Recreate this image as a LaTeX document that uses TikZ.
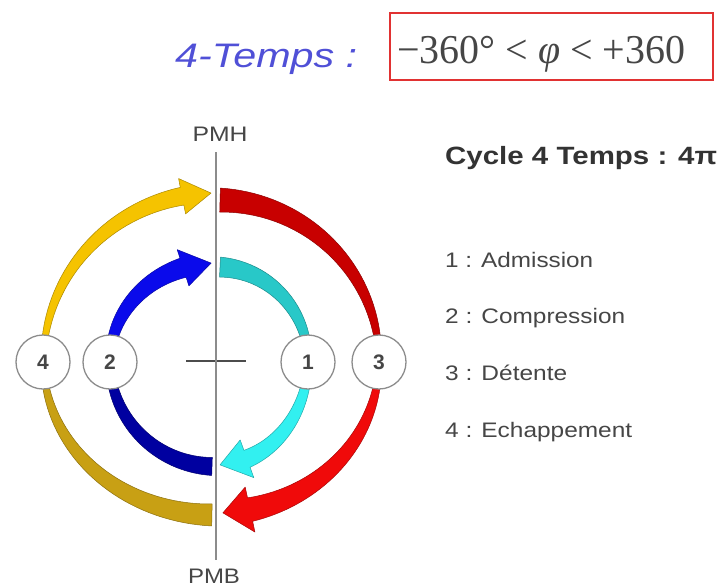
\documentclass[tikz,border=0pt]{standalone}
\usepackage{fontspec}
\usepackage{graphicx}
\setmainfont{Liberation Sans}
\newfontfamily\serifmath{Liberation Serif}
\definecolor{ytop}{RGB}{245,195,0}
\definecolor{ybot}{RGB}{200,160,20}
\definecolor{rtop}{RGB}{200,0,0}
\definecolor{rbot}{RGB}{240,10,10}
\definecolor{btop}{RGB}{10,10,235}
\definecolor{bbot}{RGB}{0,0,160}
\definecolor{ctop}{RGB}{40,200,200}
\definecolor{cbot}{RGB}{50,240,240}
\definecolor{titleblue}{RGB}{80,80,215}
\definecolor{boxred}{RGB}{225,50,50}
\definecolor{txtgray}{RGB}{70,70,70}
\definecolor{linegray}{RGB}{140,140,140}
% tapered elliptic arc with optional arrow head
% #1 colour, #2 rx, #3 ry, #4 tail angle, #5 head-base angle, #6 tail width,
% #7 width at head base, #8 tip angle, #9 head half width
\newcommand{\tarc}[9]{%
 \filldraw[fill=#1, draw=#1!70!black, line width=0.5pt, line join=round]
 plot[domain=0:1, samples=40, variable=\t]
   ({(#2+(#6+(#7-#6)*\t)/2)*cos(#4+(#5-#4)*\t)}, {(#3+(#6+(#7-#6)*\t)/2)*sin(#4+(#5-#4)*\t)})
 -- ({(#2+#9)*cos(#5)}, {(#3+#9)*sin(#5)})
 -- ({#2*cos(#8)}, {#3*sin(#8)})
 -- ({(#2-#9)*cos(#5)}, {(#3-#9)*sin(#5)})
 -- plot[domain=0:1, samples=40, variable=\t]
   ({(#2-(#6+(#7-#6)*(1-\t))/2)*cos(#4+(#5-#4)*(1-\t))}, {(#3-(#6+(#7-#6)*(1-\t))/2)*sin(#4+(#5-#4)*(1-\t))})
 -- cycle;}
\tikzset{
  numc/.style={circle, draw=linegray, line width=1.3pt, fill=white, minimum size=54pt, inner sep=0pt,
    text=txtgray, font=\fontsize{21}{24}\selectfont\bfseries},
  lbl/.style={inner sep=0pt, anchor=base west, text=txtgray},
  pm/.style={inner sep=0pt, text=txtgray, font=\fontsize{21}{24}\selectfont}
}
\begin{document}
\begin{tikzpicture}[x=1pt,y=1pt]
\useasboundingbox (0,0) rectangle (719,-587);
\fill[white] (0,0) rectangle (719,-587);
% title
\node[lbl, text=titleblue] (title) at (175,-67)
  {\resizebox{182pt}{\height}{\fontsize{34}{40}\selectfont\itshape 4-Temps :}};
\node[lbl, text=txtgray] (formula) at (397,-63)
  {\resizebox{288pt}{\height}{\serifmath\fontsize{41}{48}\selectfont −360° < \textit{φ} < +360}};
\draw[boxred, line width=2.5pt] (390,-13) rectangle (713,-80);
% legend
\node[lbl, text=black!80] (cyc) at (445,-164)
  {\resizebox{272pt}{\height}{\fontsize{25}{30}\selectfont\bfseries Cycle 4 Temps : 4π}};
\node[lbl] (l1) at (445,-267) {\resizebox{148pt}{\height}{\fontsize{21}{24}\selectfont 1 : Admission}};
\node[lbl] (l2) at (445,-323) {\resizebox{180pt}{\height}{\fontsize{21}{24}\selectfont 2 : Compression}};
\node[lbl] (l3) at (445,-380) {\resizebox{122pt}{\height}{\fontsize{21}{24}\selectfont 3 : Détente}};
\node[lbl] (l4) at (445,-437) {\resizebox{187pt}{\height}{\fontsize{21}{24}\selectfont 4 : Echappement}};
% axis
\coordinate (top) at (215.5,-152);
\coordinate (bot) at (215.5,-560);
\node[pm, anchor=base] (pmh) at (220,-141) {\resizebox{55pt}{\height}{PMH}};
\node[pm, anchor=base] (pmb) at (214,-583) {\resizebox{52pt}{\height}{PMB}};
\begin{scope}[shift={(215.5,-361)}]
  % outer cycle
  \tarc{ytop}{172}{168}{178}{101.2}{5}{18}{91.5}{18}
  \tarc{ybot}{172}{154}{182}{268.8}{5}{22}{268.8}{11}
  \tarc{rtop}{163.5}{161}{2}{88.4}{5}{24}{88.4}{12}
  \tarc{rbot}{163.5}{152}{-2}{-77.8}{5}{24}{-87.4}{23}
  % inner cycle
  \tarc{btop}{105.5}{98}{178}{107.9}{8}{20}{92.4}{19}
  \tarc{bbot}{105.5}{105.5}{182}{268.1}{8}{18}{268.1}{9}
  \tarc{ctop}{92.5}{94}{2}{87.2}{7}{20}{87.2}{10}
  \tarc{cbot}{92.5}{104}{-2}{-70.1}{7}{18}{-87.2}{20}
  % centre cross
  \draw[black!70, line width=1.5pt] (-29.5,0) -- (30.5,0);
  % stroke numbers
  \node[numc] (c4) at (-172.5,-1) {4};
  \node[numc] (c2) at (-105.5,-1) {2};
  \node[numc] (c1) at (92.5,-1) {1};
  \node[numc] (c3) at (163.5,-1) {3};
\end{scope}
\draw[linegray, line width=2pt] (top) -- (bot);
\end{tikzpicture}
\end{document}
